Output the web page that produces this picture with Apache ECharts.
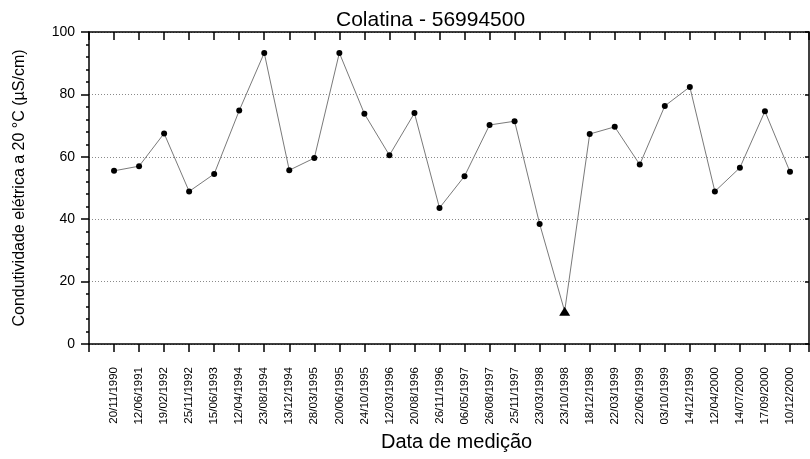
<!DOCTYPE html>
<html><head><meta charset="utf-8">
<script src="https://cdn.jsdelivr.net/npm/echarts@6/dist/echarts.min.js"></script>
<style>html,body{margin:0;padding:0;background:#fff}#c{width:810px;height:459px}</style>
</head><body><div id="c"></div>
<script>
const dates = ['20/11/1990','12/06/1991','19/02/1992','25/11/1992','15/06/1993','12/04/1994','23/08/1994','13/12/1994','28/03/1995','20/06/1995','24/10/1995','12/03/1996','20/08/1996','26/11/1996','06/05/1997','26/08/1997','25/11/1997','23/03/1998','23/10/1998','18/12/1998','22/03/1999','22/06/1999','03/10/1999','14/12/1999','12/04/2000','14/07/2000','17/09/2000','10/12/2000'];
const values = [55.5,57.0,67.5,48.9,54.5,74.8,93.3,55.7,59.6,93.3,73.8,60.5,74.0,43.6,53.8,70.2,71.4,38.5,10.5,67.3,69.6,57.5,76.3,82.4,48.9,56.5,74.6,55.2];
const triangleIdx = [18];
const yTicks = [0,20,40,60,80,100];

const font = 'Liberation Sans, Arial, sans-serif';
const chart = echarts.init(document.getElementById('c'), null, {renderer:'canvas'});
const data = values.map((v,i)=>({
  value:[i+1,v],
  symbol: triangleIdx.includes(i) ? 'triangle' : 'circle',
  symbolSize: triangleIdx.includes(i) ? [11,9] : 6
}));
const axisLine = {show:true, onZero:false, lineStyle:{color:'#000', width:1.5}};
chart.setOption({
  animation:false,
  backgroundColor:'#fff',
  title:{text:'Colatina - 56994500', left:331, top:5, textStyle:{fontFamily:font, fontSize:21, fontWeight:'normal', color:'#000'}},
  grid:{left:89, right:1, top:32, bottom:115},
  graphic:[
    {type:'text', left:381, top:432, style:{text:'Data de medição', font:'20px '+font, fill:'#000'}}
  ],
  xAxis:[
    {type:'value', position:'bottom', min:0, max:28.76, interval:1,
     axisLine:axisLine,
     axisTick:{show:true, inside:false, length:8, lineStyle:{color:'#000', width:1.5}},
     axisLabel:{rotate:90, margin:23, fontSize:11.5, fontFamily:font, color:'#000', showMinLabel:true, showMaxLabel:true,
       formatter:v=> (Number.isInteger(v) && v>=1 && v<=dates.length) ? dates[v-1] : ''},
     splitLine:{show:false}},
    {type:'value', position:'top', min:0, max:28.76, interval:1,
     axisLine:axisLine,
     axisTick:{show:true, inside:true, length:8, lineStyle:{color:'#000', width:1.5}},
     axisLabel:{show:false}, splitLine:{show:false}}
  ],
  yAxis:[
    {type:'value', position:'left', min:0, max:100, interval:20,
     name:'Condutividade elétrica a 20 °C (µS/cm)', nameLocation:'middle', nameGap:61,
     nameTextStyle:{fontFamily:font, fontSize:16, color:'#000'},
     axisLine:axisLine,
     axisTick:{show:true, inside:false, length:8, lineStyle:{color:'#000', width:1.5}},
     minorTick:{show:true, splitNumber:5, length:3, lineStyle:{color:'#000', width:1.5}},
     axisLabel:{fontSize:14, fontFamily:font, color:'#000', margin:14},
     splitLine:{show:true, lineStyle:{color:'#8a8a8a', type:[1,2], width:1}}},
    {type:'value', position:'right', min:0, max:100, interval:20,
     axisLine:axisLine,
     axisTick:{show:true, inside:true, length:4, lineStyle:{color:'#000', width:1.5}},
     axisLabel:{show:false}, splitLine:{show:false}}
  ],
  series:[{
    type:'line', xAxisIndex:0, yAxisIndex:0, data:data,
    lineStyle:{color:'#7a7a7a', width:1},
    itemStyle:{color:'#000'},
    showAllSymbol:true
  }]
});
</script></body></html>
